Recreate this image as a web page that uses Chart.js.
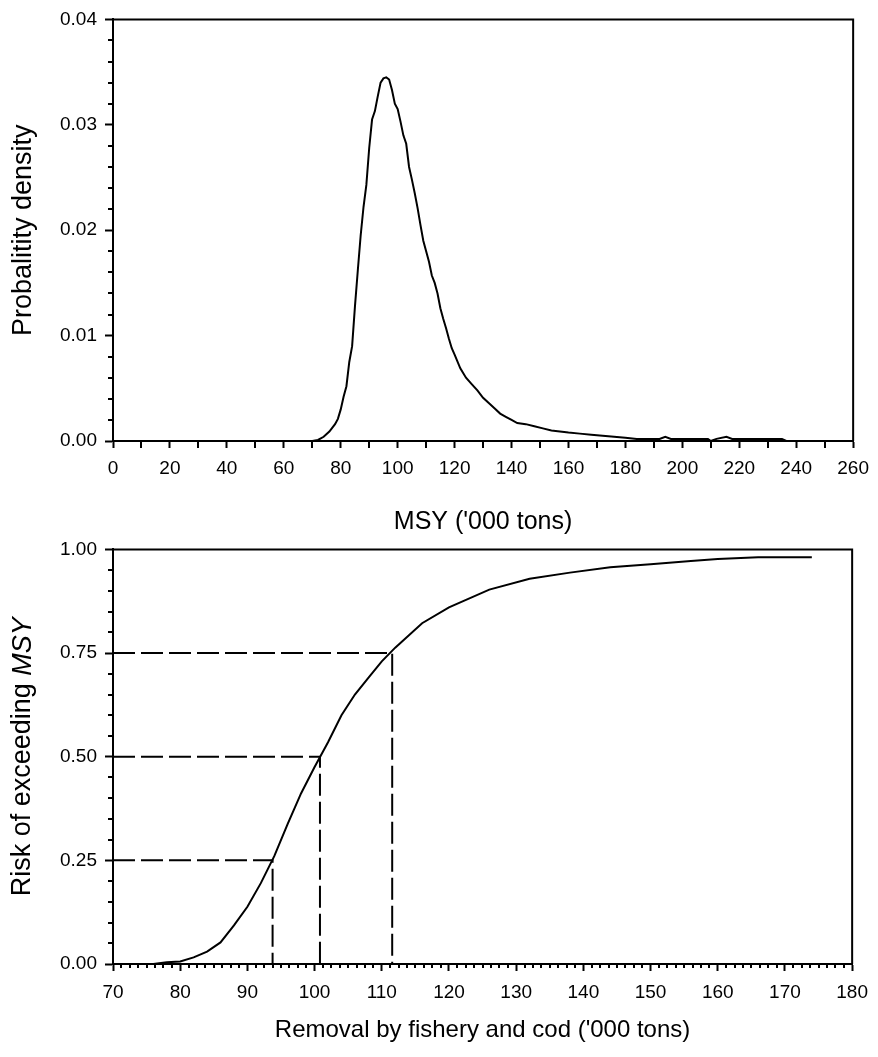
<!DOCTYPE html>
<html>
<head>
<meta charset="utf-8">
<script src="https://cdn.jsdelivr.net/npm/chart.js@4.4.1/dist/chart.umd.min.js"></script>
<style>
  html, body { margin: 0; padding: 0; background: #fff; }
  #wrap { position: relative; width: 878px; height: 1057px; }
  canvas { position: absolute; left: 0; }
  #msyChart { top: 0; }
  #riskChart { top: 530px; }
</style>
</head>
<body>
<div id="wrap">
  <canvas id="msyChart" width="878" height="545"></canvas>
  <canvas id="riskChart" width="878" height="527"></canvas>
</div>
<script>
// top panel: probability density of MSY
var msyX = [70, 72, 74, 76, 78, 79, 80, 81, 82, 83, 84, 85, 86, 87, 88, 89, 90, 91, 92, 93,
    94, 95, 96, 97, 98, 99, 100, 101, 102, 103, 104, 105, 106, 107, 108, 109, 110, 111, 112, 113,
    114, 115, 116, 117, 118, 119, 120, 122, 124, 126, 128, 130, 132, 134, 136, 138, 140, 142, 145, 148,
    151, 154, 157, 160, 164, 168, 172, 176, 180, 184, 188, 192, 194, 196, 200, 205, 209, 210, 212, 215.5,
    217.5, 222, 228, 235, 236.5];
var msyDensity = [0, 0.0001, 0.0004, 0.0009, 0.0016, 0.0021, 0.0030, 0.0042, 0.0052, 0.0075, 0.0090, 0.0128, 0.0162, 0.0195, 0.0222, 0.0243, 0.0278, 0.0305, 0.0313, 0.0327,
    0.0340, 0.0344, 0.0345, 0.0343, 0.0333, 0.0320, 0.0315, 0.0303, 0.0290, 0.0282, 0.0260, 0.0248, 0.0235, 0.0221, 0.0205, 0.0190, 0.0180, 0.0170, 0.0157, 0.0150,
    0.0140, 0.0126, 0.0116, 0.0107, 0.0097, 0.0088, 0.0082, 0.0069, 0.0060, 0.0054, 0.0048, 0.0041, 0.0036, 0.0031, 0.0026, 0.0023, 0.0020, 0.0017, 0.0016, 0.0014,
    0.0012, 0.0010, 0.0009, 0.0008, 0.0007, 0.0006, 0.0005, 0.0004, 0.0003, 0.0002, 0.0002, 0.0002, 0.0004, 0.0002, 0.0002, 0.0002, 0.0002, 0, 0.0002, 0.0004,
    0.0002, 0.0002, 0.0002, 0.0002, 0];
var msyTicksX = { min: 0, max: 260, step: 20, minor: 10 };
var msyTicksY = { min: 0, max: 0.04, step: 0.01, minor: 0.002 };

// bottom panel: risk of exceeding MSY
var removalX = [76, 78, 80, 82, 84, 86, 88, 90, 92, 94, 96, 98, 100, 102, 104, 106, 108, 110, 112, 116,
    120, 126, 132, 138, 144, 150, 156, 160, 166, 174];
var riskY = [0, 0.004, 0.006, 0.016, 0.030, 0.052, 0.093, 0.138, 0.195, 0.260, 0.338, 0.412, 0.475, 0.535, 0.600, 0.650, 0.690, 0.730, 0.763, 0.822,
    0.860, 0.903, 0.929, 0.944, 0.957, 0.964, 0.972, 0.977, 0.981, 0.981];
var riskLevels = [0.25, 0.50, 0.75];
var riskCrossX = [93.75, 100.8, 111.55];
var riskTicksX = { min: 70, max: 180, step: 10, minor: 1.25 };
var riskTicksY = { min: 0, max: 1, step: 0.25, minor: 0.05 };

var FONT = "'Liberation Sans', Arial, sans-serif";
Chart.defaults.font.family = FONT;
Chart.defaults.color = '#000';

// short outward ticks between the labelled ones
var minorTicks = {
    id: 'minorTicks',
    afterDraw: function (chart, args, opts) {
        var ctx = chart.ctx;
        ctx.save();
        ctx.strokeStyle = '#000';
        ctx.lineWidth = 2;
        ['x', 'y'].forEach(function (id) {
            var cfg = opts[id];
            if (!cfg) return;
            var sc = chart.scales[id];
            var n = Math.round((cfg.max - cfg.min) / cfg.minor);
            for (var i = 0; i <= n; i++) {
                var v = cfg.min + i * cfg.minor;
                var r = (v - cfg.min) / cfg.step;
                if (Math.abs(r - Math.round(r)) < 1e-6) continue;
                var p = Math.round(sc.getPixelForValue(v));
                ctx.beginPath();
                if (id === 'x') {
                    ctx.moveTo(p, chart.chartArea.bottom);
                    ctx.lineTo(p, chart.chartArea.bottom + cfg.len);
                } else {
                    ctx.moveTo(chart.chartArea.left, p);
                    ctx.lineTo(chart.chartArea.left - cfg.len, p);
                }
                ctx.stroke();
            }
        });
        ctx.restore();
    }
};

// closes the box: top and right edges
var frame = {
    id: 'frame',
    afterDraw: function (chart) {
        var a = chart.chartArea, ctx = chart.ctx;
        ctx.save();
        ctx.strokeStyle = '#000';
        ctx.lineWidth = 2;
        ctx.beginPath();
        ctx.moveTo(a.left, a.top);
        ctx.lineTo(a.right, a.top);
        ctx.lineTo(a.right, a.bottom);
        ctx.stroke();
        ctx.restore();
    }
};

// y title with italic MSY
var riskTitle = {
    id: 'riskTitle',
    afterDraw: function (chart) {
        var ctx = chart.ctx, a = chart.chartArea;
        var part1 = 'Risk of exceeding ', part2 = 'MSY';
        ctx.save();
        ctx.fillStyle = '#000';
        ctx.textBaseline = 'middle';
        ctx.font = '27px ' + FONT;
        var w1 = ctx.measureText(part1).width;
        ctx.font = 'italic 27px ' + FONT;
        var w2 = ctx.measureText(part2).width;
        ctx.translate(23, (a.top + a.bottom) / 2);
        ctx.rotate(-Math.PI / 2);
        ctx.textAlign = 'left';
        ctx.font = '27px ' + FONT;
        ctx.fillText(part1, -(w1 + w2) / 2, 0);
        ctx.font = 'italic 27px ' + FONT;
        ctx.fillText(part2, -(w1 + w2) / 2 + w1, 0);
        ctx.restore();
    }
};

function axisLine() { return { color: '#000', width: 2 }; }
function tickGrid(len) {
    return { drawOnChartArea: false, drawTicks: true, tickLength: len, tickWidth: 2, tickColor: '#000' };
}

// 1. density of MSY
new Chart(document.getElementById('msyChart').getContext('2d'), {
    type: 'line',
    data: {
        datasets: [{
            data: msyX.map(function (x, i) { return { x: x, y: msyDensity[i] }; }),
            borderColor: '#000', borderWidth: 2, pointRadius: 0, tension: 0, fill: false
        }]
    },
    options: {
        responsive: false, animation: false,
        layout: { padding: { top: 19, right: 23, left: 0, bottom: 0 } },
        plugins: {
            legend: { display: false }, tooltip: { enabled: false },
            minorTicks: {
                x: Object.assign({ len: 7 }, msyTicksX),
                y: Object.assign({ len: 5 }, msyTicksY)
            }
        },
        scales: {
            x: {
                type: 'linear', min: msyTicksX.min, max: msyTicksX.max,
                ticks: { stepSize: msyTicksX.step, font: { size: 19 }, padding: 9, maxRotation: 0 },
                grid: tickGrid(7), border: axisLine(),
                title: { display: true, text: "MSY ('000 tons)", font: { size: 25 }, padding: { top: 0, bottom: 8 } },
                afterFit: function (s) { s.height = 104; }
            },
            y: {
                min: msyTicksY.min, max: msyTicksY.max,
                ticks: { stepSize: msyTicksY.step, font: { size: 19 }, padding: 8,
                    callback: function (v) { return v.toFixed(2); } },
                grid: tickGrid(8), border: axisLine(),
                title: { display: true, text: 'Probalitity density', font: { size: 27 }, padding: { top: 7, bottom: 0 } },
                afterFit: function (s) { s.width = 113; }
            }
        }
    },
    plugins: [minorTicks, frame]
});

// 2. risk of exceeding MSY
var guideSets = riskLevels.map(function (lvl, i) {
    return {
        data: [{ x: riskTicksX.min, y: lvl }, { x: riskCrossX[i], y: lvl }, { x: riskCrossX[i], y: riskTicksY.min }],
        borderColor: '#000', borderWidth: 2, borderDash: [22, 6], pointRadius: 0, tension: 0, fill: false
    };
});

new Chart(document.getElementById('riskChart').getContext('2d'), {
    type: 'line',
    data: {
        datasets: [{
            data: removalX.map(function (x, i) { return { x: x, y: riskY[i] }; }),
            borderColor: '#000', borderWidth: 2, pointRadius: 0, tension: 0, fill: false
        }].concat(guideSets)
    },
    options: {
        responsive: false, animation: false,
        layout: { padding: { top: 11, right: 23, left: 0, bottom: 0 } },
        plugins: {
            legend: { display: false }, tooltip: { enabled: false },
            minorTicks: {
                x: Object.assign({ len: 4 }, riskTicksX),
                y: Object.assign({ len: 5 }, riskTicksY)
            }
        },
        scales: {
            x: {
                type: 'linear', min: riskTicksX.min, max: riskTicksX.max,
                ticks: { stepSize: riskTicksX.step, font: { size: 19 }, padding: 10, maxRotation: 0 },
                grid: tickGrid(7), border: axisLine(),
                title: { display: true, text: "Removal by fishery and cod ('000 tons)", font: { size: 24 }, padding: { top: 0, bottom: 12 } },
                afterFit: function (s) { s.height = 93; }
            },
            y: {
                min: riskTicksY.min, max: riskTicksY.max,
                ticks: { stepSize: riskTicksY.step, font: { size: 19 }, padding: 8,
                    callback: function (v) { return v.toFixed(2); } },
                grid: tickGrid(8), border: axisLine(),
                afterFit: function (s) { s.width = 113; }
            }
        }
    },
    plugins: [minorTicks, frame, riskTitle]
});
</script>
</body>
</html>
